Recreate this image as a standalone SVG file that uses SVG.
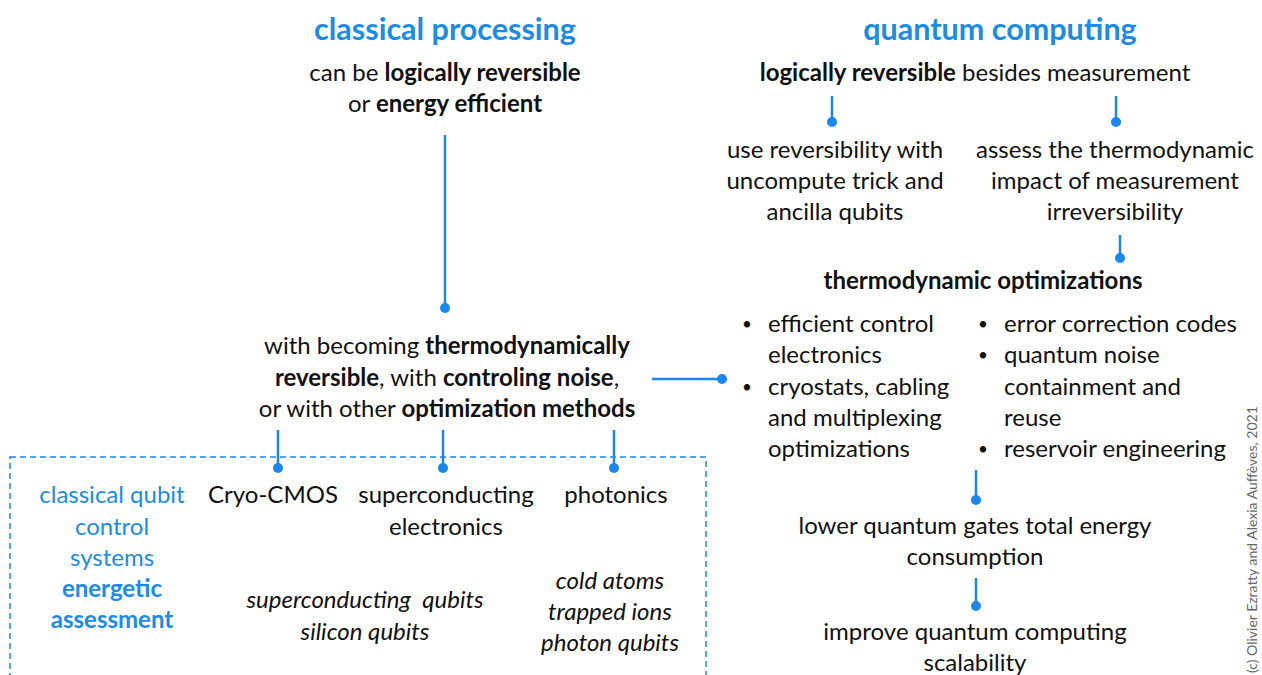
<svg xmlns="http://www.w3.org/2000/svg" width="1262" height="675" viewBox="0 0 1262 675">
<style>
text{font-family:Lato,"Open Sans","Liberation Sans",sans-serif;font-size:24px;fill:#111;text-anchor:middle}
.t{font-size:30.5px;font-weight:bold;fill:#1a8ce6}
.b{font-weight:bold}
.bl{fill:#1a8ce6}
.i{font-style:italic}
.l{text-anchor:start}
.u{font-size:17px;text-anchor:start}
.c{stroke:#1a86f0;stroke-width:2.5;fill:none}
.d{fill:#1a86f0}
.cp{font-size:14px;fill:#666;text-anchor:start}
</style>
<rect width="1262" height="675" fill="#fff"/>
<g id="classical-title"><text class="t" x="445" y="40">classical processing</text></g>
<g id="quantum-title"><text class="t" x="1000" y="40">quantum computing</text></g>
<g id="classical-top">
<text x="445" y="81">can be <tspan class="b">logically reversible</tspan></text>
<text x="445" y="112">or <tspan class="b">energy efficient</tspan></text>
</g>
<g id="classical-mid">
<text x="447" y="354">with becoming <tspan class="b">thermodynamically</tspan></text>
<text x="447" y="386"><tspan class="b">reversible</tspan>, with <tspan class="b">controling noise</tspan>,</text>
<text x="447" y="417">or with other <tspan class="b">optimization methods</tspan></text>
</g>
<g id="quantum-top"><text x="975" y="81"><tspan class="b">logically reversible</tspan> besides measurement</text></g>
<g id="uncompute">
<text x="835" y="158">use reversibility with</text>
<text x="835" y="189">uncompute trick and</text>
<text x="835" y="220">ancilla qubits</text>
</g>
<g id="assess">
<text x="1115" y="158">assess the thermodynamic</text>
<text x="1115" y="189">impact of measurement</text>
<text x="1115" y="220">irreversibility</text>
</g>
<g id="thermo-opt">
<text class="b" x="983" y="289">thermodynamic optimizations</text>
<text class="u" x="742" y="330">•</text><text class="l" x="768" y="332">efficient control</text>
<text class="l" x="768" y="363">electronics</text>
<text class="u" x="742" y="393">•</text><text class="l" x="768" y="395">cryostats, cabling</text>
<text class="l" x="768" y="426">and multiplexing</text>
<text class="l" x="768" y="457">optimizations</text>
<text class="u" x="978" y="330">•</text><text class="l" x="1004" y="332">error correction codes</text>
<text class="u" x="978" y="361">•</text><text class="l" x="1004" y="363">quantum noise</text>
<text class="l" x="1004" y="395">containment and</text>
<text class="l" x="1004" y="426">reuse</text>
<text class="u" x="978" y="455">•</text><text class="l" x="1004" y="457">reservoir engineering</text>
</g>
<g id="lower-energy">
<text x="975" y="534">lower quantum gates total energy</text>
<text x="975" y="565">consumption</text>
</g>
<g id="scalability">
<text x="975" y="640">improve quantum computing</text>
<text x="975" y="671">scalability</text>
</g>
<g id="control-box">
<rect x="10" y="457" width="696" height="240" fill="none" stroke="#1a86f0" stroke-width="1.5" stroke-dasharray="6,4"/>
<text class="bl" x="112" y="503">classical qubit</text>
<text class="bl" x="112" y="535">control</text>
<text class="bl" x="112" y="566">systems</text>
<text class="bl b" x="112" y="597">energetic</text>
<text class="bl b" x="112" y="628">assessment</text>
</g>
<g id="cryo-cmos"><text x="273" y="503">Cryo-CMOS</text></g>
<g id="sc-electronics">
<text x="446" y="503">superconducting</text>
<text x="446" y="535">electronics</text>
</g>
<g id="photonics"><text x="616" y="503">photonics</text></g>
<g id="sc-qubits">
<text class="i" x="365" y="608" xml:space="preserve">superconducting  qubits</text>
<text class="i" x="365" y="640">silicon qubits</text>
</g>
<g id="atom-qubits">
<text class="i" x="610" y="589">cold atoms</text>
<text class="i" x="610" y="620">trapped ions</text>
<text class="i" x="610" y="651">photon qubits</text>
</g>
<g id="connectors">
<path class="c" d="M445 135V308"/><circle class="d" cx="445" cy="308" r="5"/>
<path class="c" d="M652 379H722"/><circle class="d" cx="722" cy="379" r="5"/>
<path class="c" d="M832 96V122"/><circle class="d" cx="832" cy="122" r="5"/>
<path class="c" d="M1116 96V122"/><circle class="d" cx="1116" cy="122" r="5"/>
<path class="c" d="M1120 235V258"/><circle class="d" cx="1120" cy="258" r="5"/>
<path class="c" d="M976 470V500"/><circle class="d" cx="976" cy="500" r="5"/>
<path class="c" d="M976 578V606"/><circle class="d" cx="976" cy="606" r="5"/>
<path class="c" d="M278 430V468"/><circle class="d" cx="278" cy="468" r="5"/>
<path class="c" d="M443 430V468"/><circle class="d" cx="443" cy="468" r="5"/>
<path class="c" d="M614 430V468"/><circle class="d" cx="614" cy="468" r="5"/>
</g>
<g id="copyright"><text class="cp" transform="translate(1257,673) rotate(-90)">(c) Olivier Ezratty and Alexia Auffèves, 2021</text></g>
</svg>
